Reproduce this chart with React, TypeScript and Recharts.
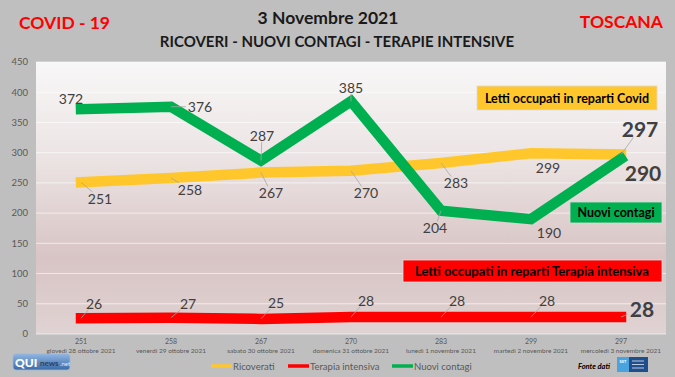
import React from "react";
import {
  ComposedChart,
  Line,
  XAxis,
  YAxis,
  CartesianGrid,
  LabelList,
} from "recharts";

const DATES = [
  "giovedì 28 ottobre 2021",
  "venerdì 29 ottobre 2021",
  "sabato 30 ottobre 2021",
  "domenica 31 ottobre 2021",
  "lunedì 1 novembre 2021",
  "martedì 2 novembre 2021",
  "mercoledì 3 novembre 2021",
];
const RICOVERATI = [251, 258, 267, 270, 283, 299, 297];
const TERAPIA = [26, 27, 25, 28, 28, 28, 28];
const CONTAGI = [372, 376, 287, 385, 204, 190, 290];
const Y_TICKS = [0, 50, 100, 150, 200, 250, 300, 350, 400, 450];

const data = DATES.map((date, i) => ({
  date,
  ricoverati: RICOVERATI[i],
  terapia: TERAPIA[i],
  contagi: CONTAGI[i],
}));

const YELLOW = "#ffc72c";
const RED = "#ff0000";
const GREEN = "#00b050";
const LABEL_COLOR = "#404040";
const AXIS_COLOR = "#595959";
const FONT = "Lato, 'Liberation Sans', sans-serif";

// where each value label sits, relative to its point
const OFF_RIC: [number, number][] = [[19, 16], [19, 11], [10, 20], [15, 22], [15, 20], [17, 14], [19, -26]];
const OFF_TER: [number, number][] = [[13, -15], [17, -14], [15, -16], [15, -17], [16, -17], [16, -17], [21, -9]];
const OFF_CON: [number, number][] = [[-10, -11], [29, 0], [1, -25], [0, -14], [-6, 17], [18, 13], [22, 14]];
const LEAD_RIC = [true, true, true, true, true, false, true];
const LEAD_TER = [true, true, true, true, true, true, true];
const LEAD_CON = [false, true, true, true, true, false, false];

function makeLabel(offsets: [number, number][], leads: boolean[]) {
  return (props: any) => {
    const { x, y, value, index } = props;
    const [dx, dy] = offsets[index];
    const last = index === offsets.length - 1;
    const fs = last ? 21 : 14;
    const hw = String(value).length * 0.29 * fs + 2;
    const hh = fs * 0.38 + 1;
    const s = Math.min(dx ? hw / Math.abs(dx) : 99, dy ? hh / Math.abs(dy) : 99);
    const t = 1 - s;
    return (
      <g>
        {leads[index] && t > 0.15 && (
          <line
            x1={x}
            y1={y}
            x2={x + dx * t}
            y2={y + dy * t}
            stroke="#a6a6a6"
            strokeWidth={0.8}
          />
        )}
        <text
          x={x + dx}
          y={y + dy}
          textAnchor="middle"
          dominantBaseline="central"
          fontSize={fs}
          fontWeight={last ? 700 : 400}
          fill={LABEL_COLOR}
          fontFamily={FONT}
        >
          {value}
        </text>
      </g>
    );
  };
}

const DateTick = (props: any) => {
  const { x, y, payload, index } = props;
  return (
    <g>
      <text x={x} y={y + 5} textAnchor="middle" dominantBaseline="central" fontSize={7} fill={AXIS_COLOR} fontFamily={FONT}>
        {RICOVERATI[index]}
      </text>
      <text x={x} y={y + 14} textAnchor="middle" dominantBaseline="central" fontSize={6.5} fill={AXIS_COLOR} fontFamily={FONT}>
        {payload.value}
      </text>
    </g>
  );
};

const LEGEND = [
  { name: "Ricoverati", color: YELLOW, x: 211 },
  { name: "Terapia intensiva", color: RED, x: 288 },
  { name: "Nuovi contagi", color: GREEN, x: 392 },
];

export default function App() {
  return (
    <div style={{ position: "relative", width: 675, height: 377, background: "#bfbfbf", fontFamily: FONT }}>
      <style>{`body{margin:0}`}</style>
      <ComposedChart
        width={675}
        height={377}
        data={data}
        margin={{ top: 62, right: 9, left: 6, bottom: 13 }}
      >
        <defs>
          <linearGradient id="plotBg" x1="0" y1="0" x2="0" y2="1">
            <stop offset="0%" stopColor="#f8f7f7" />
            <stop offset="35%" stopColor="#ece4e4" />
            <stop offset="72%" stopColor="#d8c4c4" />
            <stop offset="100%" stopColor="#e0d3d3" />
          </linearGradient>
        </defs>
        <CartesianGrid vertical={false} fill="url(#plotBg)" stroke="#ffffff" strokeOpacity={0.6} />
        <XAxis
          dataKey="date"
          axisLine={false}
          tickLine={false}
          tickSize={0}
          interval={0}
          height={30}
          padding={{ left: 45, right: 45 }}
          tick={<DateTick />}
        />
        <YAxis
          domain={[0, 450]}
          ticks={Y_TICKS}
          width={30}
          axisLine={false}
          tickLine={false}
          tick={{ fontSize: 9.5, fill: AXIS_COLOR, fontFamily: FONT }}
        />
        <Line
          type="linear"
          dataKey="ricoverati"
          name="Ricoverati"
          stroke={YELLOW}
          strokeWidth={10.5}
          strokeLinecap="square"
          dot={false}
          isAnimationActive={false}
        >
          <LabelList dataKey="ricoverati" content={makeLabel(OFF_RIC, LEAD_RIC)} />
        </Line>
        <Line
          type="linear"
          dataKey="terapia"
          name="Terapia intensiva"
          stroke={RED}
          strokeWidth={10.5}
          strokeLinecap="square"
          dot={false}
          isAnimationActive={false}
        >
          <LabelList dataKey="terapia" content={makeLabel(OFF_TER, LEAD_TER)} />
        </Line>
        <Line
          type="linear"
          dataKey="contagi"
          name="Nuovi contagi"
          stroke={GREEN}
          strokeWidth={10.5}
          strokeLinecap="square"
          dot={false}
          isAnimationActive={false}
        >
          <LabelList dataKey="contagi" content={makeLabel(OFF_CON, LEAD_CON)} />
        </Line>
      </ComposedChart>

      <svg
        width={675}
        height={377}
        style={{ position: "absolute", left: 0, top: 0, pointerEvents: "none" }}
        fontFamily={FONT}
      >
        {/* titles */}
        <text x={19} y={22} dominantBaseline="central" fontSize={17.5} fontWeight={700} fill={RED}>COVID - 19</text>
        <text x={663} y={21} textAnchor="end" dominantBaseline="central" fontSize={17.5} fontWeight={700} fill={RED}>TOSCANA</text>
        <text x={328} y={17} textAnchor="middle" dominantBaseline="central" fontSize={17.5} fontWeight={700} fill="#1a1a1a">3 Novembre 2021</text>
        <text x={337} y={41} textAnchor="middle" dominantBaseline="central" fontSize={15} fontWeight={700} fill="#1a1a1a">
          RICOVERI - NUOVI CONTAGI - TERAPIE INTENSIVE
        </text>

        {/* callout boxes */}
        <rect x={477} y={86} width={180} height={24} fill={YELLOW} stroke="#d9d9d9" strokeWidth={0.8} />
        <text x={567} y={98} textAnchor="middle" dominantBaseline="central" fontSize={12.5} fontWeight={700} fill="#000">
          Letti occupati in reparti Covid
        </text>
        <rect x={570} y={202} width={92} height={21} fill={GREEN} stroke="#d9d9d9" strokeWidth={0.8} />
        <text x={616} y={212.5} textAnchor="middle" dominantBaseline="central" fontSize={12.5} fontWeight={700} fill="#000">
          Nuovi contagi
        </text>
        <rect x={403} y={260} width={259} height={22} fill={RED} stroke="#d9d9d9" strokeWidth={0.8} />
        <text x={532} y={271} textAnchor="middle" dominantBaseline="central" fontSize={13} fontWeight={700} fill="#000">
          Letti occupati in reparti Terapia intensiva
        </text>

        {/* legend */}
        {LEGEND.map((l) => (
          <g key={l.name}>
            <line x1={l.x} x2={l.x + 21} y1={366} y2={366} stroke={l.color} strokeWidth={3.5} />
            <text x={l.x + 22} y={366} dominantBaseline="central" fontSize={9.5} fill={AXIS_COLOR}>{l.name}</text>
          </g>
        ))}

        {/* logos */}
        <defs>
          <linearGradient id="qui" x1="0" y1="0" x2="0" y2="1">
            <stop offset="0%" stopColor="#8fb5e2" />
            <stop offset="100%" stopColor="#3a6aa8" />
          </linearGradient>
        </defs>
        <rect x={13} y={354} width={57} height={16} rx={3} fill="url(#qui)" stroke="#9db8d8" strokeWidth={0.8} />
        <text x={15} y={362} dominantBaseline="central" fontSize={12} fontWeight={900} fill="#fff">QUI</text>
        <text x={40} y={363} dominantBaseline="central" fontSize={8} fontWeight={700} fill="#2b3f5c">news</text>
        <text x={60} y={363} dominantBaseline="central" fontSize={6} fill="#e6eef8">.net</text>

        <text x={578} y={366} dominantBaseline="central" fontSize={7.5} fontWeight={700} fontStyle="italic" fill="#000">Fonte dati</text>
        <rect x={617} y={357} width={12} height={15} fill="#4aa3df" />
        <text x={623} y={361} textAnchor="middle" dominantBaseline="central" fontSize={4} fontWeight={700} fill="#fff">SST</text>
        <rect x={629} y={357} width={19} height={15} fill="#1f4e8c" />
        <line x1={632} x2={644} y1={361} y2={361} stroke="#fff" strokeWidth={0.7} />
        <line x1={632} x2={644} y1={364.5} y2={364.5} stroke="#fff" strokeWidth={0.7} />
        <line x1={632} x2={644} y1={368} y2={368} stroke="#fff" strokeWidth={0.7} />
      </svg>
    </div>
  );
}
